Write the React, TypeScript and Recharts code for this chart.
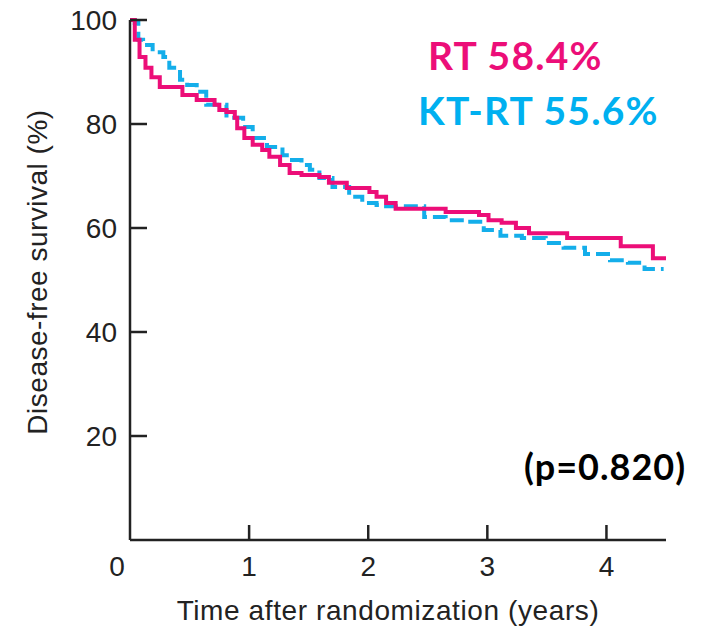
import React from 'react';
import { LineChart, Line, XAxis, YAxis } from 'recharts';

// Kaplan-Meier step points: time (years), survival (%)
const rtTimes = [0, 0.04, 0.08, 0.13, 0.18, 0.25, 0.44, 0.56, 0.71, 0.75, 0.81, 0.88, 0.9, 0.96, 1.03, 1.11, 1.17, 1.26, 1.34, 1.44, 1.59, 1.67, 1.82, 2.01, 2.07, 2.15, 2.23, 2.65, 2.93, 3.01, 3.12, 3.24, 3.35, 3.67, 4.12, 4.39, 4.5];
const rtSurvival = [100, 96.2, 92.9, 90.8, 89.0, 87.1, 85.6, 84.6, 83.7, 82.7, 82.3, 81.2, 79.2, 77.3, 76.0, 75.0, 73.7, 72.1, 70.6, 70.2, 69.8, 68.7, 67.7, 66.9, 66.0, 64.8, 63.7, 63.1, 62.5, 61.5, 61.0, 60.0, 59.0, 58.1, 56.5, 54.2, 54.2];

const ktTimes = [0, 0.04, 0.07, 0.11, 0.19, 0.28, 0.33, 0.42, 0.48, 0.56, 0.64, 0.81, 0.95, 1.03, 1.15, 1.28, 1.36, 1.44, 1.51, 1.59, 1.7, 1.84, 1.95, 2.07, 2.15, 2.47, 2.65, 2.83, 2.97, 3.11, 3.29, 3.49, 3.64, 3.82, 4.03, 4.18, 4.32, 4.48];
const ktSurvival = [100, 99.4, 96.2, 95.2, 93.8, 92.9, 90.8, 88.5, 87.5, 86.2, 83.7, 81.2, 79.4, 77.3, 75.6, 74.0, 73.1, 72.1, 71.2, 69.6, 67.9, 66.0, 64.8, 64.4, 64.2, 62.1, 61.5, 61.2, 59.6, 58.5, 58.1, 57.1, 56.2, 55.0, 53.8, 53.3, 52.1, 52.1];

const xTicks = [0, 1, 2, 3, 4];
const yTicks = [0, 20, 40, 60, 80, 100];

const rtData = rtTimes.map((t, i) => ({ t, s: rtSurvival[i] }));
const ktData = ktTimes.map((t, i) => ({ t, s: ktSurvival[i] }));

const AXIS = '#222';
const PINK = '#EC0E78';
const BLUE = '#14AEEA';
const FONT = '"Liberation Sans", Arial, sans-serif';
const TITLE_FONT = 'Lato, "Open Sans", sans-serif';

const plotLeft = 130;
const plotBottom = 540;

const XTick = (props: any) => {
  const { x, payload } = props;
  const v = payload.value;
  return (
    <g>
      {v !== 0 && <line x1={x} x2={x} y1={plotBottom} y2={plotBottom - 15} stroke={AXIS} strokeWidth={2.5} />}
      <text x={v === 0 ? x - 13 : x} y={576} textAnchor="middle" fontSize={28} fill={AXIS} fontFamily={FONT}>
        {v}
      </text>
    </g>
  );
};

const YTick = (props: any) => {
  const { y, payload } = props;
  const v = payload.value;
  if (v === 0) return <g />;
  return (
    <g>
      <line x1={plotLeft} x2={plotLeft + 17} y1={y} y2={y} stroke={AXIS} strokeWidth={2.5} />
      <text x={117} y={y + 10} textAnchor="end" fontSize={28} fill={AXIS} fontFamily={FONT}>
        {v}
      </text>
    </g>
  );
};

export default function App() {
  return (
    <div style={{ position: 'absolute', left: 0, top: 0, width: 707, height: 632, background: '#fff' }}>
      <LineChart width={707} height={632} margin={{ top: 20, right: 41, bottom: 0, left: 0 }}>
        <XAxis
          type="number"
          dataKey="t"
          domain={[0, 4.5]}
          ticks={xTicks}
          allowDataOverflow
          height={92}
          axisLine={{ stroke: AXIS, strokeWidth: 2.5 }}
          tickLine={false}
          tick={<XTick />}
        />
        <YAxis
          type="number"
          dataKey="s"
          domain={[0, 100]}
          ticks={yTicks}
          width={130}
          axisLine={{ stroke: AXIS, strokeWidth: 2.5 }}
          tickLine={false}
          tick={<YTick />}
        />
        <Line
          data={ktData}
          dataKey="s"
          type="stepAfter"
          stroke={BLUE}
          strokeWidth={4}
          strokeDasharray="14 6"
          dot={false}
          isAnimationActive={false}
        />
        <Line
          data={rtData}
          dataKey="s"
          type="stepAfter"
          stroke={PINK}
          strokeWidth={4}
          dot={false}
          isAnimationActive={false}
        />
      </LineChart>
      <svg width={707} height={632} style={{ position: 'absolute', left: 0, top: 0, pointerEvents: 'none' }}>
        <text x={388} y={620} textAnchor="middle" fontSize={28} letterSpacing={0.6} fill={AXIS} fontFamily={FONT}>
          Time after randomization (years)
        </text>
        <text
          x={0}
          y={0}
          transform="translate(47 272) rotate(-90)"
          textAnchor="middle"
          fontSize={28}
          letterSpacing={0.5}
          fill={AXIS}
          fontFamily={FONT}
        >
          Disease-free survival (%)
        </text>
        <text x={428} y={70} fontSize={39} letterSpacing={1.2} fontWeight="bold" fill={PINK} fontFamily={TITLE_FONT}>
          RT 58.4%
        </text>
        <text x={418} y={125} fontSize={39} letterSpacing={1.2} fontWeight="bold" fill="#00B0F0" fontFamily={TITLE_FONT}>
          KT-RT 55.6%
        </text>
        <text x={524} y={480} fontSize={36} letterSpacing={1} fontWeight="bold" fill="#000" fontFamily={TITLE_FONT}>
          (p=0.820)
        </text>
      </svg>
    </div>
  );
}
